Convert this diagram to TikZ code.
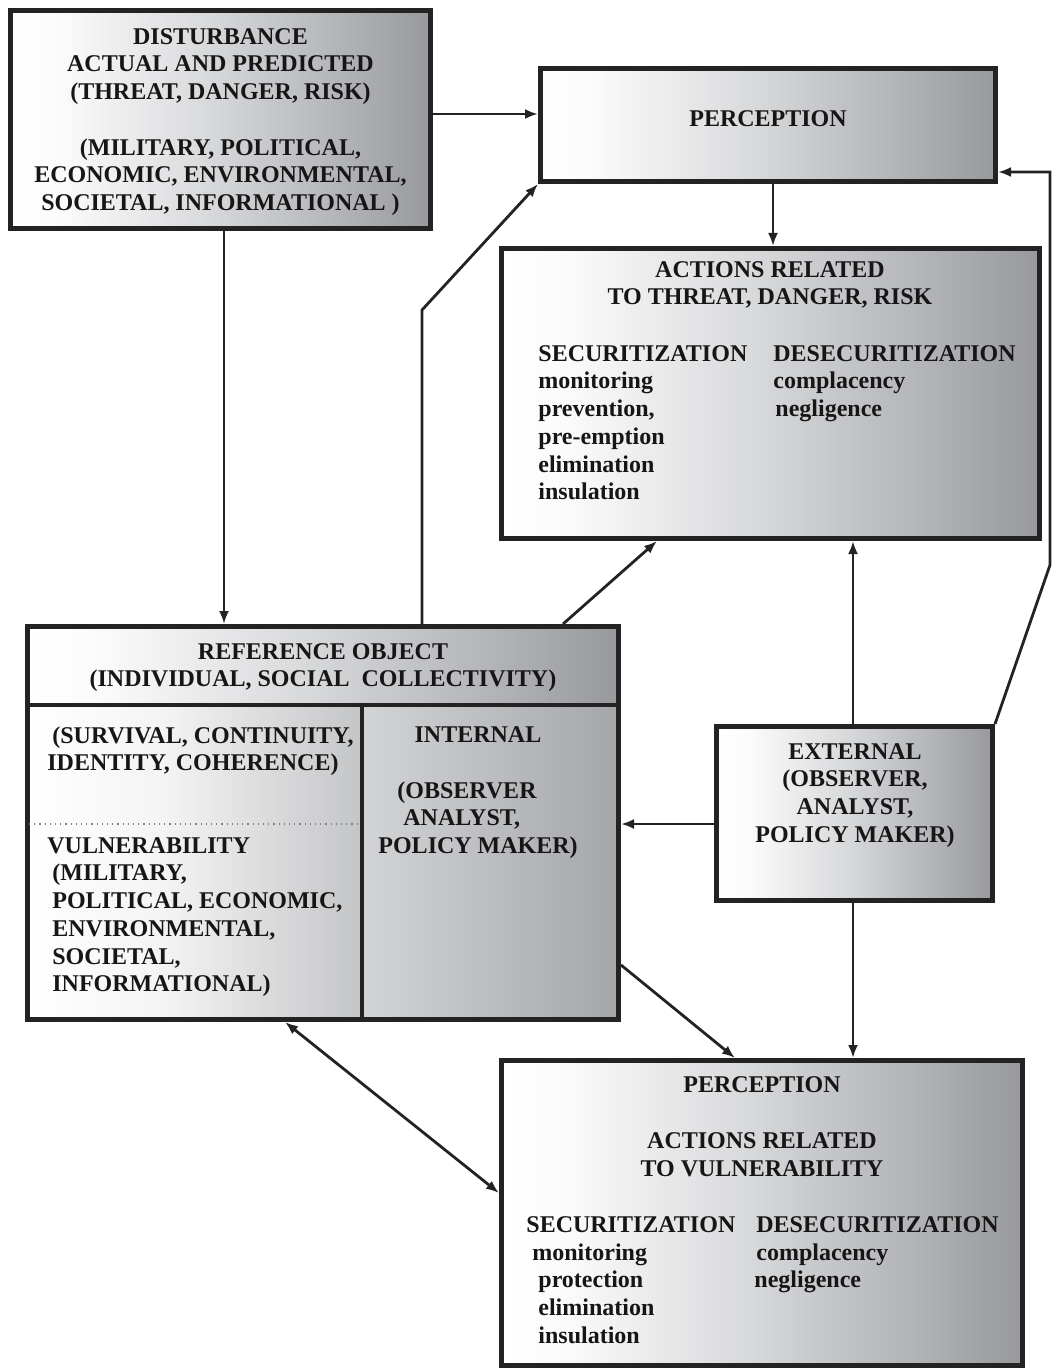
\documentclass[tikz,border=0pt]{standalone}
\usepackage{fontspec}
\setmainfont{Liberation Serif}
\usetikzlibrary{arrows.meta}

\definecolor{edge}{HTML}{232323}
\definecolor{ink}{HTML}{161616}
\definecolor{shA}{HTML}{FBFBFB}
\definecolor{shB}{HTML}{D9DADC}
\definecolor{shC}{HTML}{B5B7BA}
\definecolor{shD}{HTML}{97999C}
\definecolor{lcA}{HTML}{F4F4F4}
\definecolor{lcB}{HTML}{C4C5C7}
\definecolor{rcA}{HTML}{D3D4D6}
\definecolor{rcB}{HTML}{A4A6A9}

% left-to-right grey gradient of the boxes (25bp..75bp spans the box)
\pgfdeclarehorizontalshading{boxshade}{100bp}{color(0bp)=(white); color(25bp)=(white); color(31bp)=(shA); color(48bp)=(shB); color(63bp)=(shC); color(75bp)=(shD); color(100bp)=(shD)}
\pgfdeclarehorizontalshading{leftcell}{100bp}{color(0bp)=(white); color(25bp)=(white); color(45bp)=(lcA); color(75bp)=(lcB); color(100bp)=(lcB)}
\pgfdeclarehorizontalshading{rightcell}{100bp}{color(0bp)=(rcA); color(25bp)=(rcA); color(75bp)=(rcB); color(100bp)=(rcB)}

\begin{document}
\begin{tikzpicture}[x=0.5pt,y=-0.5pt,
  box/.style={draw=edge, line width=2.5pt, inner sep=0pt, shade, shading=boxshade},
  txt/.style={inner sep=0pt, text=ink, font=\fontsize{12pt}{13.85pt}\selectfont\bfseries},
  ctr/.style={txt, align=center, anchor=north},
  lft/.style={txt, align=left, anchor=north west},
  arr/.style={draw=edge, line width=1.4pt, -{Latex[length=6.5pt,width=5pt]}},
  dblarr/.style={draw=edge, line width=1.4pt, {Latex[length=6.5pt,width=5pt]}-{Latex[length=6.5pt,width=5pt]}},
  divider/.style={draw=edge, line width=2pt}]

\useasboundingbox (0,0) rectangle (1054,1369);

% ---- boxes ----
\node[box, minimum width=210pt, minimum height=109pt] (dist) at (220.5,119.5) {};
\node[box, minimum width=227.5pt, minimum height=56.5pt] (perc) at (768,125) {};
\node[box, minimum width=269pt, minimum height=145pt] (act) at (770.5,393.5) {};
\node[box, minimum width=138pt, minimum height=87pt] (ext) at (854.5,813.5) {};
\node[box, minimum width=260.5pt, minimum height=152.5pt] (percb) at (762,1213) {};

% reference object: header and two cells
\shade[shading=boxshade] (27.5,626.5) rectangle (618.5,705);
\shade[shading=leftcell] (27.5,705) rectangle (362,1019.5);
\shade[shading=rightcell] (362,705) rectangle (618.5,1019.5);
\node[draw=edge, line width=2.5pt, inner sep=0pt, minimum width=295.5pt, minimum height=196.5pt] (ref) at (323,823) {};
\coordinate (hdiv) at (0,705);
\coordinate (vdiv) at (362,705);
\draw[divider] (ref.west |- hdiv) -- (ref.east |- hdiv);
\draw[divider] (vdiv) -- (vdiv |- ref.south);
\coordinate (dotl) at (29,824);
\coordinate (dotr) at (361,824);
\draw[dotted, line width=0.6pt, draw=gray] (dotl) -- (dotr);

% ---- texts ----
\node[ctr] (tdist) at (220.5,28) {DISTURBANCE\\ACTUAL AND PREDICTED\\(THREAT, DANGER, RISK)\\[13.85pt](MILITARY, POLITICAL,\\ECONOMIC, ENVIRONMENTAL,\\SOCIETAL, INFORMATIONAL )};

\node[txt] (tperc) at (768,119) {PERCEPTION};

\node[ctr] (tact) at (770,261) {ACTIONS RELATED\\TO THREAT, DANGER, RISK};
\node[lft] (tactl) at (538,345) {SECURITIZATION\\monitoring\\prevention,\\pre-emption\\elimination\\insulation};
\node[lft] (tactr) at (773,345) {DESECURITIZATION\\complacency\\\hspace*{1pt}negligence};

\node[ctr] (tref) at (323,643) {REFERENCE OBJECT\\(INDIVIDUAL, SOCIAL\ \ COLLECTIVITY)};
\node[lft] (trefa) at (47,726) {\hspace*{2.5pt}(SURVIVAL, CONTINUITY,\\IDENTITY, COHERENCE)};
\node[lft] (trefb) at (47,837) {VULNERABILITY\\\hspace*{2.5pt}(MILITARY,\\\hspace*{2.5pt}POLITICAL, ECONOMIC,\\\hspace*{2.5pt}ENVIRONMENTAL,\\\hspace*{2.5pt}SOCIETAL,\\\hspace*{2.5pt}INFORMATIONAL)};
\node[txt] (tint) at (478,735) {INTERNAL};
\node[lft] (tintb) at (378,781) {\hspace*{9.5pt}(OBSERVER\\\hspace*{12.5pt}ANALYST,\\POLICY MAKER)};

\node[ctr] (text) at (855,743) {EXTERNAL\\(OBSERVER,\\ANALYST,\\POLICY MAKER)};

\node[txt] (tpercb) at (762,1085) {PERCEPTION};
\node[ctr] (tactb) at (762,1132) {ACTIONS RELATED\\TO VULNERABILITY};
\node[lft] (tactbl) at (526,1216) {SECURITIZATION\\\hspace*{3pt}monitoring\\\hspace*{6pt}protection\\\hspace*{6pt}elimination\\\hspace*{6pt}insulation};
\node[lft] (tactbr) at (754,1216) {\hspace*{1pt}DESECURITIZATION\\\hspace*{1pt}complacency\\negligence};

% ---- connectors ----
\coordinate (g1) at (0,114);
\draw[arr] (dist.east |- g1) -- (perc.west |- g1);

\coordinate (g2) at (224,0);
\draw[arr] (dist.south -| g2) -- (ref.north -| g2);

\coordinate (lbend) at (422,310);
\draw[arr] (ref.north -| lbend) -- (lbend) -- (perc.south west);

\coordinate (g3) at (563,0);
\coordinate (g4) at (657,0);
\draw[arr] (ref.north -| g3) -- (act.south -| g4);

\coordinate (g5) at (853,0);
\draw[arr] (ext.north -| g5) -- (act.south -| g5);

\coordinate (rbend) at (1050,565);
\coordinate (rtop) at (1050,172);
\draw[arr] (ext.north east) -- (rbend) -- (rtop) -- (perc.east |- rtop);

\coordinate (g6) at (773,0);
\draw[arr] (perc.south -| g6) -- (act.north -| g6);

\coordinate (g7) at (0,824);
\draw[arr] (ext.west |- g7) -- (ref.east |- g7);

\coordinate (g8) at (0,965);
\coordinate (g9) at (735,0);
\draw[arr] (ref.east |- g8) -- (percb.north -| g9);

\draw[arr] (ext.south -| g5) -- (percb.north -| g5);

\coordinate (g10) at (285,0);
\coordinate (g11) at (0,1193);
\draw[dblarr] (ref.south -| g10) -- (percb.west |- g11);

\end{tikzpicture}
\end{document}
